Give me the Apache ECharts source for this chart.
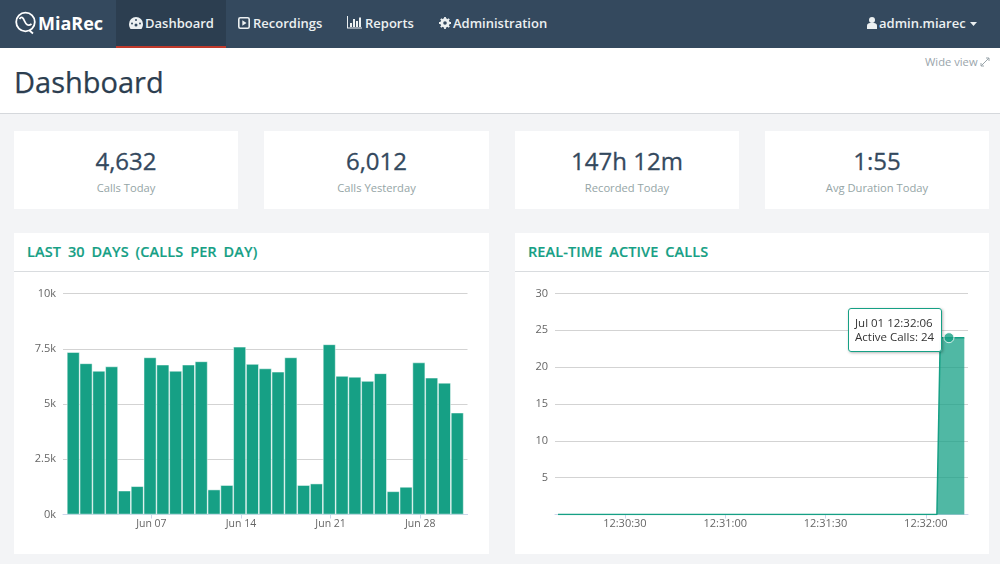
<!DOCTYPE html>
<html><head><meta charset="utf-8"><title>Dashboard</title>
<style>
html,body{margin:0;padding:0;width:1000px;height:564px;overflow:hidden;background:#f3f4f6;font-family:"Open Sans",sans-serif;}
.a{position:absolute;white-space:nowrap;}
#nav{left:0;top:0;width:1000px;height:48px;background:#34495e;}
#active{left:116px;top:0;width:110px;height:46px;background:#2c3e50;border-bottom:2px solid #c0392b;}
.n{top:12.5px;font-size:13px;line-height:20px;color:#ecf0f1;font-weight:600;}
.ic{position:absolute;}
#head{left:0;top:48px;width:1000px;height:65px;background:#fff;border-bottom:1px solid #d5d8dc;}
h1{margin:0;left:14px;top:61px;font-size:29px;line-height:41px;font-weight:400;color:#2c3e50;-webkit-text-stroke:.25px #2c3e50;}
.card{background:#fff;}
.big{font-size:24px;line-height:34px;font-weight:500;color:#34495e;text-align:center;-webkit-text-stroke:.3px #34495e;}
.sub{font-size:11.2px;line-height:18px;color:#95a5a6;text-align:center;}
.pt{font-size:14.5px;line-height:20px;font-weight:600;color:#16a085;word-spacing:3px;letter-spacing:.1px;-webkit-text-stroke:.15px #16a085;}
#chart{left:0;top:0;width:1000px;height:564px;}
</style></head><body>
<div class="a" id="nav"></div><div class="a" id="active"></div>
<svg class="ic" style="left:14px;top:10px" width="24" height="26" viewBox="0 0 24 26" fill="none" stroke="#fff">
<circle cx="11.500" cy="12" r="9.300" stroke-width="1.800"/><path d="M5.500 9c2-3 3.500-1.500 5 2s3.500 5.500 7 3" stroke-width="1.800"/><path d="M15.500 20.500l3.500 3" stroke-width="1.800"/></svg>
<div class="a" style="left:38px;top:10px;font-size:18px;line-height:26px;font-weight:700;color:#fff;">MiaRec</div>
<svg class="ic" style="left:129px;top:17px" width="14" height="12" viewBox="0 0 14 12"><path d="M7 0a7 7 0 0 0-7 7c0 2 .6 3.500 1.500 5h11c.9-1.500 1.500-3 1.500-5a7 7 0 0 0-7-7z" fill="#ecf0f1"/><circle cx="7" cy="8" r="1.500" fill="#34495e"/><circle cx="3" cy="6.500" r="1" fill="#34495e"/><circle cx="11" cy="6.500" r="1" fill="#34495e"/><circle cx="7" cy="3" r="1" fill="#34495e"/></svg>
<div class="a n" style="left:145px">Dashboard</div>
<svg class="ic" style="left:238px;top:17px" width="12" height="12" viewBox="0 0 12 12"><rect x=".8" y=".8" width="10.400" height="10.400" rx="1.500" fill="none" stroke="#ecf0f1" stroke-width="1.600"/><path d="M4.300 3.300l4.200 2.700-4.200 2.700z" fill="#ecf0f1"/></svg>
<div class="a n" style="left:253px">Recordings</div>
<svg class="ic" style="left:347px;top:16px" width="15" height="13" viewBox="0 0 15 13" fill="#ecf0f1"><rect x="0" y="11.500" width="15" height="1"/><rect x="0" y="0" width="1" height="12"/><rect x="3" y="7" width="2" height="4"/><rect x="6" y="3" width="2" height="8"/><rect x="9" y="5" width="2" height="6"/><rect x="12" y="1.500" width="2" height="9.500"/></svg>
<div class="a n" style="left:365px">Reports</div>
<svg class="ic" style="left:439px;top:17px" width="12" height="12" viewBox="0 0 12 12"><circle cx="6" cy="6" r="3.500" fill="none" stroke="#ecf0f1" stroke-width="2.400"/><path d="M6 0v12M0 6h12M1.800 1.800l8.400 8.400M10.200 1.800l-8.400 8.400" stroke="#ecf0f1" stroke-width="1.800"/><circle cx="6" cy="6" r="1.800" fill="#34495e"/></svg>
<div class="a n" style="left:453px">Administration</div>
<svg class="ic" style="left:867px;top:17px" width="10" height="12" viewBox="0 0 10 12" fill="#ecf0f1"><circle cx="5" cy="3" r="3"/><path d="M0 12V8.500C0 7 1.500 6 3 6h4c1.500 0 3 1 3 2.500V12z"/></svg>
<div class="a n" style="left:879px">admin.miarec</div>
<svg class="ic" style="left:970px;top:22px" width="7" height="4" viewBox="0 0 7 4"><path d="M0 0h7L3.500 4z" fill="#ecf0f1"/></svg>
<div class="a" id="head"></div>
<h1 class="a">Dashboard</h1>
<div class="a" style="left:925px;top:54px;font-size:11.2px;line-height:16px;color:#9aa5ab">Wide view</div>
<svg class="ic" style="left:980px;top:57px" width="10" height="10" viewBox="0 0 10 10" fill="none" stroke="#9aa5ab" stroke-width="1"><path d="M1 9l8-8M6 1h3v3M1 6v3h3"/></svg>
<div class="a card" style="left:14px;top:131px;width:224px;height:78px"></div>
<div class="a card" style="left:264px;top:131px;width:225px;height:78px"></div>
<div class="a card" style="left:515px;top:131px;width:224px;height:78px"></div>
<div class="a card" style="left:765px;top:131px;width:224px;height:78px"></div>
<div class="a big" style="left:14px;top:144px;width:224px">4,632</div>
<div class="a big" style="left:264px;top:144px;width:225px">6,012</div>
<div class="a big" style="left:515px;top:144px;width:224px">147h 12m</div>
<div class="a big" style="left:765px;top:144px;width:224px">1:55</div>
<div class="a sub" style="left:14px;top:179px;width:224px">Calls Today</div>
<div class="a sub" style="left:264px;top:179px;width:225px">Calls Yesterday</div>
<div class="a sub" style="left:515px;top:179px;width:224px">Recorded Today</div>
<div class="a sub" style="left:765px;top:179px;width:224px">Avg Duration Today</div>
<div class="a card" style="left:14px;top:233px;width:475px;height:321px"></div>
<div class="a card" style="left:515px;top:233px;width:474px;height:321px"></div>
<div class="a" style="left:14px;top:271px;width:475px;height:1px;background:#d9dcdf"></div>
<div class="a" style="left:515px;top:271px;width:474px;height:1px;background:#d9dcdf"></div>
<div class="a pt" style="left:27px;top:242px">LAST 30 DAYS (CALLS PER DAY)</div>
<div class="a pt" style="left:528px;top:242px">REAL-TIME ACTIVE CALLS</div>
<div class="a" id="chart"></div>
<script src="https://cdn.jsdelivr.net/npm/echarts@6/dist/echarts.min.js"></script>
<script>
const days = ['2021-06-01','2021-06-02','2021-06-03','2021-06-04','2021-06-05','2021-06-06','2021-06-07','2021-06-08','2021-06-09','2021-06-10','2021-06-11','2021-06-12','2021-06-13','2021-06-14','2021-06-15','2021-06-16','2021-06-17','2021-06-18','2021-06-19','2021-06-20','2021-06-21','2021-06-22','2021-06-23','2021-06-24','2021-06-25','2021-06-26','2021-06-27','2021-06-28','2021-06-29','2021-06-30','2021-07-01'];
const callsPerDay = [7350,6840,6500,6700,1080,1280,7110,6780,6500,6780,6930,1130,1330,7590,6810,6610,6460,7110,1330,1400,7700,6270,6230,6040,6390,1050,1250,6880,6190,5960,4610];
const dayTickDates = ['2021-06-07 02:30','2021-06-14 02:30','2021-06-21 02:30','2021-06-28 02:30'];
const dayTickLabels = ['Jun 07','Jun 14','Jun 21','Jun 28'];
const callTicks = [0,2500,5000,7500,10000];
const callTickLabels = ['0k','2.5k','5k','7.5k','10k'];
const sampleTimes = ['2021-07-01 12:30:10','2021-07-01 12:30:40','2021-07-01 12:31:10','2021-07-01 12:31:40','2021-07-01 12:32:03.3','2021-07-01 12:32:04.3','2021-07-01 12:32:06.9','2021-07-01 12:32:11.5'];
const activeCalls = [0,0,0,0,0,24,24,24];
const timeTickDates = ['2021-07-01 12:30:30','2021-07-01 12:31:00','2021-07-01 12:31:30','2021-07-01 12:32:00'];
const timeTickLabels = ['12:30:30','12:31:00','12:31:30','12:32:00'];
const hoverIndex = 6;
const hoverTitle = 'Jul 01 12:32:06';
const hoverSeries = 'Active Calls';

const teal = '#16a085', gridC = '#d3d3d3', lab = '#666', axisC = '#ccd6eb';
const ts = s => new Date(s.replace(' ', 'T')).getTime();
const DAY = 864e5;
const chart = echarts.init(document.getElementById('chart'), null, {renderer:'canvas', width:1000, height:564});
const lblStyle = {color:lab, fontSize:11, fontFamily:'"Open Sans",sans-serif'};
const dayTicks = dayTickDates.map(ts), timeTicks = timeTickDates.map(ts);
chart.setOption({
  animation:false,
  backgroundColor:'transparent',
  grid:[
    {left:63, width:404.5, top:293.5, height:221},
    {left:555, width:413, top:293.5, height:221}
  ],
  tooltip:{
    trigger:'item', alwaysShowContent:true, transitionDuration:0, showDelay:0,
    backgroundColor:'rgba(255,255,255,.97)', borderColor:teal, borderWidth:1, borderRadius:3,
    padding:[7,7,7,6], extraCssText:'box-shadow:1px 1px 3px rgba(0,0,0,.3);',
    textStyle:{color:'#333', fontSize:11.5, fontFamily:'"Open Sans",sans-serif', lineHeight:14},
    position:[848,308],
    formatter:p => hoverTitle + '<br>' + hoverSeries + ': ' + p.value[1]
  },
  xAxis:[
    {type:'value', gridIndex:0, scale:true, min:ts(days[0])-0.8*DAY, max:ts(days[30])+0.8*DAY,
     axisLine:{show:true,onZero:false,lineStyle:{color:axisC}}, splitLine:{show:false},
     axisTick:{show:true,length:4,lineStyle:{color:axisC},customValues:dayTicks},
     axisLabel:Object.assign({customValues:dayTicks,margin:4,hideOverlap:false,
       formatter:v=>dayTickLabels[dayTicks.indexOf(v)]||''},lblStyle,{fontSize:10.5})},
    {type:'value', gridIndex:1, scale:true, min:ts(sampleTimes[0])-900, max:ts(sampleTimes[7])+1100,
     axisLine:{show:true,onZero:false,lineStyle:{color:axisC}}, splitLine:{show:false},
     axisTick:{show:true,length:4,lineStyle:{color:axisC},customValues:timeTicks},
     axisLabel:Object.assign({customValues:timeTicks,margin:4,hideOverlap:false,
       formatter:v=>timeTickLabels[timeTicks.indexOf(v)]||''},lblStyle)}
  ],
  yAxis:[
    {type:'value', gridIndex:0, min:0, max:10000, interval:2500,
     axisLine:{show:false}, axisTick:{show:false}, splitLine:{lineStyle:{color:gridC,width:1}},
     axisLabel:Object.assign({margin:7,formatter:v=>callTickLabels[callTicks.indexOf(v)]},lblStyle)},
    {type:'value', gridIndex:1, min:0, max:30, interval:5,
     axisLine:{show:false}, axisTick:{show:false}, splitLine:{lineStyle:{color:gridC,width:1}},
     axisLabel:Object.assign({margin:7,formatter:v=>v===0?'':String(v)},lblStyle)}
  ],
  series:[
    {type:'bar', name:'Calls', xAxisIndex:0, yAxisIndex:0, barWidth:12.8,
     data:days.map((d,i)=>[ts(d),callsPerDay[i]]), silent:true, tooltip:{show:false},
     itemStyle:{color:teal,borderColor:'rgba(255,255,255,.7)',borderWidth:0.7}},
    {type:'line', name:hoverSeries, xAxisIndex:1, yAxisIndex:1, showSymbol:false, silent:true, tooltip:{show:false},
     data:sampleTimes.map((t,i)=>[ts(t),activeCalls[i]]),
     lineStyle:{color:teal,width:1.5}, areaStyle:{color:teal,opacity:.75}},
    {type:'scatter', name:hoverSeries, xAxisIndex:1, yAxisIndex:1, symbolSize:10, z:5,
     data:[[ts(sampleTimes[hoverIndex]),activeCalls[hoverIndex]]],
     itemStyle:{color:teal,borderColor:'#fff',borderWidth:1}}
  ]
});
chart.dispatchAction({type:'showTip',seriesIndex:2,dataIndex:0});
</script>
</body></html>
